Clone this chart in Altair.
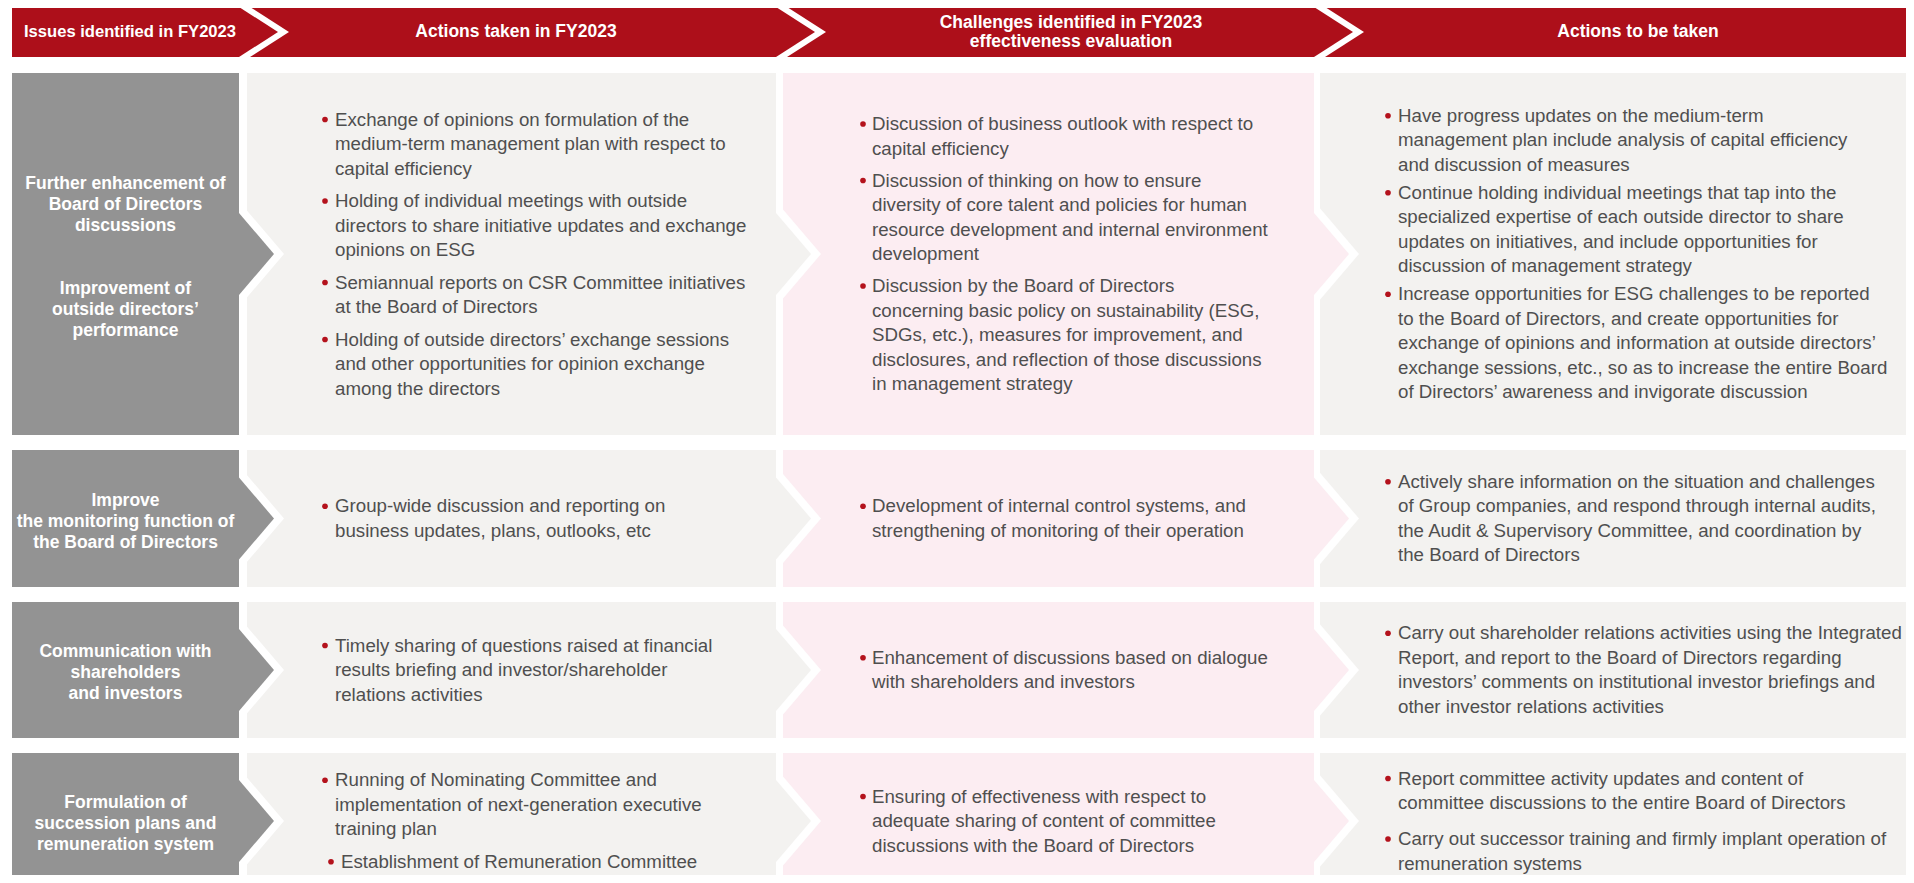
import altair as alt
import pandas as pd

# ---------------- content ----------------
HEADERS = [
    ["Issues identified in FY2023"],
    ["Actions taken in FY2023"],
    ["Challenges identified in FY2023", "effectiveness evaluation"],
    ["Actions to be taken"],
]

ISSUES = [
    ["Further enhancement of", "Board of Directors", "discussions", "", "",
     "Improvement of", "outside directors\u2019", "performance"],
    ["Improve", "the monitoring function of", "the Board of Directors"],
    ["Communication with", "shareholders", "and investors"],
    ["Formulation of", "succession plans and", "remuneration system"],
]

ACTIONS_TAKEN = [
    [
        ["Exchange of opinions on formulation of the",
         "medium-term management plan with respect to",
         "capital efficiency"],
        ["Holding of individual meetings with outside",
         "directors to share initiative updates and exchange",
         "opinions on ESG"],
        ["Semiannual reports on CSR Committee initiatives",
         "at the Board of Directors"],
        ["Holding of outside directors\u2019 exchange sessions",
         "and other opportunities for opinion exchange",
         "among the directors"],
    ],
    [
        ["Group-wide discussion and reporting on",
         "business updates, plans, outlooks, etc"],
    ],
    [
        ["Timely sharing of questions raised at financial",
         "results briefing and investor/shareholder",
         "relations activities"],
    ],
    [
        ["Running of Nominating Committee and",
         "implementation of next-generation executive",
         "training plan"],
        ["Establishment of Remuneration Committee"],
    ],
]

CHALLENGES = [
    [
        ["Discussion of business outlook with respect to",
         "capital efficiency"],
        ["Discussion of thinking on how to ensure",
         "diversity of core talent and policies for human",
         "resource development and internal environment",
         "development"],
        ["Discussion by the Board of Directors",
         "concerning basic policy on sustainability (ESG,",
         "SDGs, etc.), measures for improvement, and",
         "disclosures, and reflection of those discussions",
         "in management strategy"],
    ],
    [
        ["Development of internal control systems, and",
         "strengthening of monitoring of their operation"],
    ],
    [
        ["Enhancement of discussions based on dialogue",
         "with shareholders and investors"],
    ],
    [
        ["Ensuring of effectiveness with respect to",
         "adequate sharing of content of committee",
         "discussions with the Board of Directors"],
    ],
]

ACTIONS_NEXT = [
    [
        ["Have progress updates on the medium-term",
         "management plan include analysis of capital efficiency",
         "and discussion of measures"],
        ["Continue holding individual meetings that tap into the",
         "specialized expertise of each outside director to share",
         "updates on initiatives, and include opportunities for",
         "discussion of management strategy"],
        ["Increase opportunities for ESG challenges to be reported",
         "to the Board of Directors, and create opportunities for",
         "exchange of opinions and information at outside directors\u2019",
         "exchange sessions, etc., so as to increase the entire Board",
         "of Directors\u2019 awareness and invigorate discussion"],
    ],
    [
        ["Actively share information on the situation and challenges",
         "of Group companies, and respond through internal audits,",
         "the Audit & Supervisory Committee, and coordination by",
         "the Board of Directors"],
    ],
    [
        ["Carry out shareholder relations activities using the Integrated",
         "Report, and report to the Board of Directors regarding",
         "investors\u2019 comments on institutional investor briefings and",
         "other investor relations activities"],
    ],
    [
        ["Report committee activity updates and content of",
         "committee discussions to the entire Board of Directors"],
        ["Carry out successor training and firmly implant operation of",
         "remuneration systems"],
    ],
]

# ---------------- layout (page pixels) ----------------
PAGE_W, PAGE_H, MARGIN = 1914, 883, 8
HEADER_TOP, HEADER_MID, HEADER_BOTTOM = 7, 32, 57
HEADER_LEFT = 12
ROW_TOP = [73, 450, 602, 753]
ROW_BOTTOM = [435, 587, 738, 889]
COL_LEFT = [12, 247, 783, 1320]
COL_RIGHT = [239, 776, 1314, 1914]
HEADER_X = [130, 516, 1071, 1638]
HEADER_SIZE = [16.6, 17.5, 17.5, 17.5]
BULLET_X = [325, 863, 1388]
TEXT_X = [335, 872, 1398]
LINE_STEP = 24.5
LABEL_STEP = 21
LABEL_SHIFT = 3
HEADER_STEP = 19
BULLET_GAP = [[32.5] * 4, [32] * 4, [28, 30, 30, 36]]
CHEV_DEPTH, CHEV_STRIPE = 39, 11
ARROW_DEPTH, ARROW_HALF, ARROW_BORDER = 35, 41, 10

RED = "#AD0F1A"
GRAY = "#939393"
LIGHT = "#F3F2F0"
PINK = "#FCEDF2"
COL_FILL = [GRAY, LIGHT, PINK, LIGHT]
TEXT_COLOR = "#4F4F4F"
BULLET_COLOR = "#B4121C"

# ---------------- tables ----------------
rects = [dict(x=HEADER_LEFT, x2=PAGE_W, y=HEADER_TOP, y2=HEADER_BOTTOM, fill=RED)]
for r in range(4):
    for c in range(4):
        rects.append(dict(x=COL_LEFT[c], x2=COL_RIGHT[c], y=ROW_TOP[r],
                          y2=ROW_BOTTOM[r], fill=COL_FILL[c]))
rect_df = pd.DataFrame(rects)

# shapes drawn as vertical range areas: at each x a span y..y2
white_pts, color_pts = [], []
for i in range(3):
    base = COL_RIGHT[i]
    # header chevron: white wedge, then red wedge of the segment on its left
    for x, y, y2 in [(base, HEADER_TOP, HEADER_BOTTOM),
                     (base + CHEV_STRIPE, HEADER_TOP, HEADER_BOTTOM),
                     (base + CHEV_STRIPE + CHEV_DEPTH, HEADER_MID, HEADER_MID)]:
        white_pts.append(dict(id=f"hw{i}", x=x, y=y, y2=y2, fill="#FFFFFF"))
    for x, y, y2 in [(base - 1, HEADER_TOP, HEADER_BOTTOM),
                     (base, HEADER_TOP, HEADER_BOTTOM),
                     (base + CHEV_DEPTH, HEADER_MID, HEADER_MID)]:
        color_pts.append(dict(id=f"hr{i}", x=x, y=y, y2=y2, fill=RED))
    # row arrows
    for r in range(4):
        c = (ROW_TOP[r] + ROW_BOTTOM[r]) / 2
        big = (ARROW_DEPTH + ARROW_BORDER) * ARROW_HALF / ARROW_DEPTH
        for x, y, y2 in [(base, c - big, c + big),
                         (base + ARROW_DEPTH + ARROW_BORDER, c, c)]:
            white_pts.append(dict(id=f"w{i}{r}", x=x, y=y, y2=y2, fill="#FFFFFF"))
        for x, y, y2 in [(base - 1, c - ARROW_HALF, c + ARROW_HALF),
                         (base, c - ARROW_HALF, c + ARROW_HALF),
                         (base + ARROW_DEPTH, c, c)]:
            color_pts.append(dict(id=f"a{i}{r}", x=x, y=y, y2=y2, fill=COL_FILL[i]))
white_df = pd.DataFrame(white_pts)
color_df = pd.DataFrame(color_pts)

head_rows = []
for i, lines in enumerate(HEADERS):
    y0 = HEADER_MID - (len(lines) - 1) * HEADER_STEP / 2
    for j, t in enumerate(lines):
        head_rows.append(dict(x=HEADER_X[i], y=y0 + j * HEADER_STEP, text=t,
                              fs=HEADER_SIZE[i]))
head_df = pd.DataFrame(head_rows)

label_rows = []
for r, lines in enumerate(ISSUES):
    c = (ROW_TOP[r] + ROW_BOTTOM[r]) / 2 + LABEL_SHIFT
    y0 = c - (len(lines) - 1) * LABEL_STEP / 2
    for j, t in enumerate(lines):
        if t:
            label_rows.append(dict(x=(COL_LEFT[0] + COL_RIGHT[0]) / 2, y=y0 + j * LABEL_STEP, text=t))
label_df = pd.DataFrame(label_rows)

body_rows, bullet_rows = [], []
for k, column in enumerate([ACTIONS_TAKEN, CHALLENGES, ACTIONS_NEXT]):
    for r, bullets in enumerate(column):
        gap = BULLET_GAP[k][r]
        n_lines = sum(len(b) for b in bullets)
        total = (n_lines - len(bullets)) * LINE_STEP + (len(bullets) - 1) * gap
        y = (ROW_TOP[r] + ROW_BOTTOM[r]) / 2 - total / 2
        for bi, b in enumerate(bullets):
            if bi > 0:
                y += gap
            indent = 6 if (k == 0 and r == 3 and bi == 1) else 0
            bullet_rows.append(dict(x=BULLET_X[k] + indent, y=y))
            for li, t in enumerate(b):
                if li > 0:
                    y += LINE_STEP
                body_rows.append(dict(x=TEXT_X[k] + indent, y=y, text=t))
body_df = pd.DataFrame(body_rows)
bullet_df = pd.DataFrame(bullet_rows)

# ---------------- chart ----------------
XS = alt.Scale(domain=[MARGIN, PAGE_W - MARGIN], nice=False, zero=False)
YS = alt.Scale(domain=[MARGIN, PAGE_H - MARGIN], nice=False, zero=False, reverse=True)

def X(f="x"):
    return alt.X(f"{f}:Q", scale=XS, axis=None)

def Y(f="y"):
    return alt.Y(f"{f}:Q", scale=YS, axis=None)

rect_layer = alt.Chart(rect_df).mark_rect(clip=True).encode(
    x=X(), x2="x2:Q", y=Y(), y2="y2:Q", color=alt.Color("fill:N", scale=None))

white_layer = alt.Chart(white_df).mark_area(clip=True, opacity=1).encode(
    x=X(), y=Y(), y2="y2:Q", detail="id:N",
    color=alt.Color("fill:N", scale=None))

color_layer = alt.Chart(color_df).mark_area(clip=True, opacity=1).encode(
    x=X(), y=Y(), y2="y2:Q", detail="id:N",
    color=alt.Color("fill:N", scale=None))

head_layer = alt.Chart(head_df).mark_text(
    font="Liberation Sans", fontWeight="bold", color="#FFFFFF",
    align="center", baseline="middle").encode(
    x=X(), y=Y(), text="text:N", size=alt.Size("fs:Q", scale=None))

label_layer = alt.Chart(label_df).mark_text(
    font="Liberation Sans", fontWeight="bold", fontSize=17.5, color="#FFFFFF",
    align="center", baseline="middle").encode(x=X(), y=Y(), text="text:N")

body_layer = alt.Chart(body_df).mark_text(
    font="Liberation Sans", fontSize=18.7, color=TEXT_COLOR,
    align="left", baseline="middle").encode(x=X(), y=Y(), text="text:N")

bullet_layer = alt.Chart(bullet_df).mark_circle(
    size=32, color=BULLET_COLOR, opacity=1).encode(x=X(), y=Y())

chart = alt.layer(
    rect_layer, white_layer, color_layer, head_layer, label_layer, body_layer, bullet_layer
).properties(
    width=PAGE_W - 2 * MARGIN, height=PAGE_H - 2 * MARGIN,
    autosize=alt.AutoSizeParams(type="none"), padding=0, background="#FFFFFF"
).configure_view(strokeWidth=0)

chart.save("out.html", embed_options={"renderer": "svg", "actions": False})
